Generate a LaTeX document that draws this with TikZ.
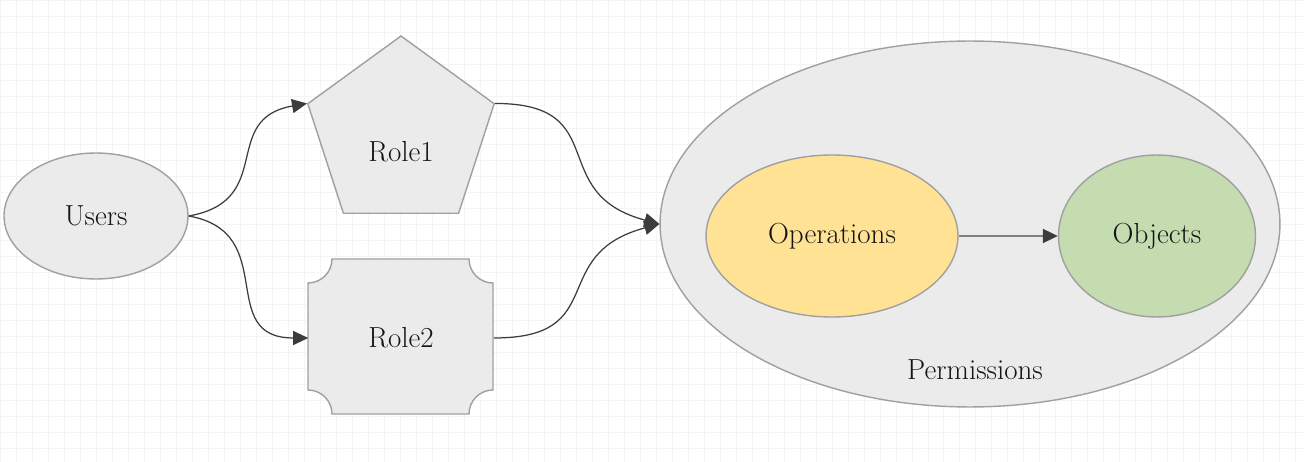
\documentclass[tikz,border=0pt]{standalone}
\usetikzlibrary{arrows.meta,shapes.geometric,positioning}

\definecolor{shapefill}{HTML}{EBEBEB}
\definecolor{shapeline}{HTML}{A0A0A0}
\definecolor{opsfill}{HTML}{FFE294}
\definecolor{objfill}{HTML}{C4DCB0}
\definecolor{linkline}{HTML}{3C3C3C}
\definecolor{gridline}{HTML}{F3F4F6}
\definecolor{inktext}{HTML}{151515}

\tikzset{
	labeltext/.style={font=\fontsize{16.5}{19}\selectfont, text=inktext},
	blob/.style={ellipse, draw=shapeline, line width=0.8pt, fill=shapefill, inner sep=0pt, labeltext},
	rolebox/.style={draw=shapeline, line width=0.8pt, fill=shapefill},
	link/.style={draw=linkline, line width=0.7pt, -{Triangle[length=0.3cm,width=0.28cm]}},
	flow/.style={draw=gray, line width=1.1pt, -{Triangle[length=0.3cm,width=0.28cm,color=linkline]}}
}

\begin{document}
\begin{tikzpicture}[x=0.02cm, y=0.02cm]
					\useasboundingbox (0,0) rectangle (1304,-462);
					\fill[white] (0,0) rectangle (1304,-462);
					\draw[gridline, line width=0.4pt, step=0.32cm] (0,0) grid (1304,-462);

					\node[blob, minimum width=3.68cm, minimum height=2.52cm] (users) at (96,-216) {Users};
					\node[blob, regular polygon, regular polygon sides=5, minimum size=3.92cm,
						label={[labeltext, yshift=-0.36cm]center:Role1}] (role1) at (401,-134) {};

					% role2: box with hollow corners
					\draw[rolebox] (332,-259) -- (469,-259) arc[start angle=180, end angle=270, radius=24]
						-- (493,-390) arc[start angle=90, end angle=180, radius=24]
						-- (332,-414) arc[start angle=0, end angle=90, radius=24]
						-- (308,-283) arc[start angle=270, end angle=360, radius=24] -- cycle;
					\node[labeltext, minimum width=3.7cm, minimum height=3.1cm, inner sep=0pt] (role2) at (401,-338) {Role2};

					\node[blob, minimum width=12.4cm, minimum height=7.32cm] (perms) at (970,-224) {};
					\node[labeltext] (permtext) at (975,-370) {Permissions};
					\node[blob, fill=opsfill, minimum width=5.04cm, minimum height=3.24cm] (ops) at (832,-236) {Operations};
					\node[blob, fill=objfill, minimum width=3.94cm, minimum height=3.24cm] (objs) at (1157,-236) {Objects};

					\draw (users.east) edge[link, out=10, in=190, looseness=1.4] (role1.corner 2)
						(users.east) edge[link, out=-10, in=180, looseness=1.4] (role2.west)
						(role1.corner 5) edge[link, out=0, in=165, looseness=1.5] (perms.west)
						(role2.east) edge[link, out=0, in=195, looseness=1.5] (perms.west)
						(ops) edge[flow] (objs);
				\end{tikzpicture}
\end{document}
